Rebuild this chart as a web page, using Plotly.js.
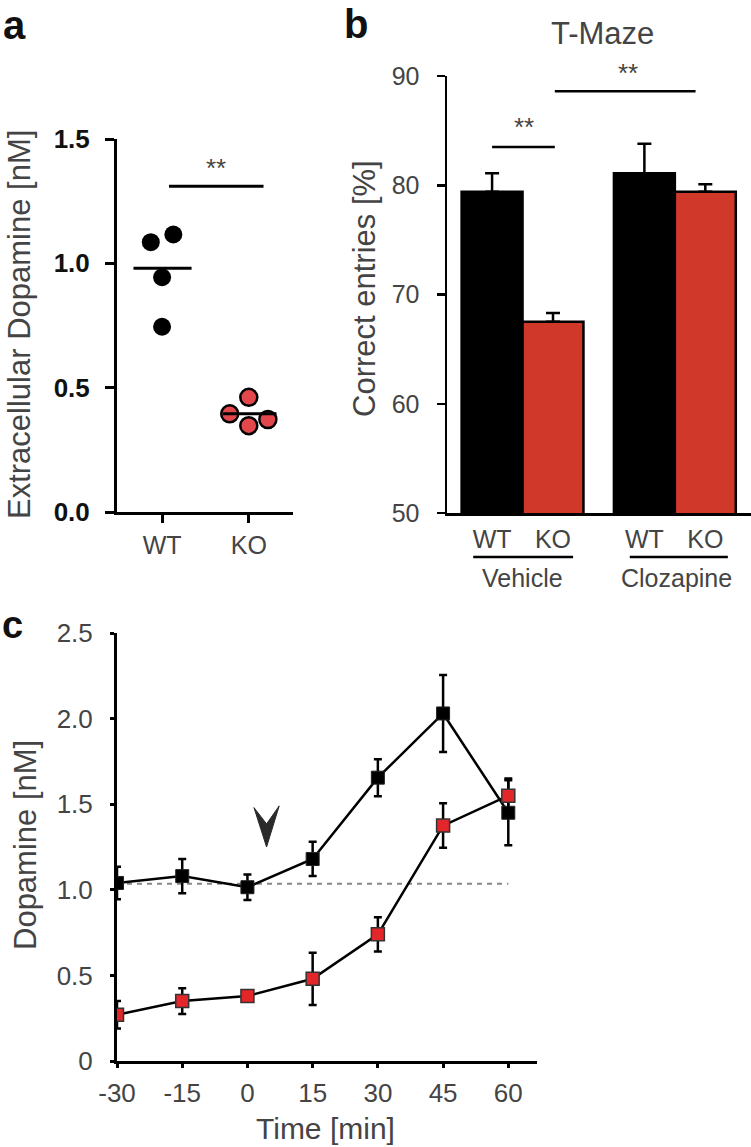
<!DOCTYPE html>
<html>
<head>
<meta charset="utf-8">
<script src="https://cdn.plot.ly/plotly-3.0.1.min.js"></script>
<style>html,body{margin:0;padding:0;background:#fff}#chart{width:751px;height:1147px}</style>
</head>
<body>
<div id="chart"></div>
<script>
// ---------- data ----------
// panel a
const A_GROUPS = ['WT', 'KO'];
const A_WT = [1.085, 1.116, 0.944, 0.745];
const A_KO = [0.461, 0.395, 0.372, 0.347];
const A_MEANS = [0.98, 0.395];
const A_SIG = '**';

// panel b
const B_GENOTYPES = ['WT', 'KO', 'WT', 'KO'];
const B_TREATMENTS = ['Vehicle', 'Clozapine'];
const B_VALUES = [79.4, 67.5, 81.1, 79.4];
const B_SEM = [1.7, 0.8, 2.7, 0.7];
const B_SIG = ['**', '**'];

// panel c
const C_TIME = [-30, -15, 0, 15, 30, 45, 60];
const C_TIME_LABELS = ['-30', '-15', '0', '15', '30', '45', '60'];
const C_WT = [1.04, 1.08, 1.015, 1.18, 1.655, 2.03, 1.45];
const C_WT_SEM = [0.095, 0.1, 0.075, 0.1, 0.108, 0.225, 0.19];
const C_KO = [0.27, 0.35, 0.38, 0.48, 0.74, 1.375, 1.55];
const C_KO_SEM = [0.08, 0.075, 0.02, 0.153, 0.1, 0.13, 0.1];
const C_BASELINE = 1.035;
const C_INJECTION = 4.4;

// ---------- layout helpers (positions / styles) ----------
const W = 751, H = 1147;
const px = v => v / W;
const py = v => 1 - v / H;
const JIT_WT = [-0.13, 0.13, 0, 0];
const JIT_KO = [0, -0.22, 0.22, 0];
const B_POS = [0, 1, 2.5, 3.5];
const FONT = 'Liberation Sans, Arial, sans-serif';
const GREY = '#444';
const RED_A = '#e2474b';
const RED_B = '#d0382a';
const RED_C = '#e3262a';

const traces = [];
// panel a
traces.push({
  type: 'scatter', mode: 'markers', xaxis: 'x', yaxis: 'y',
  x: A_WT.map((v, i) => 0 + JIT_WT[i]), y: A_WT,
  marker: {color: '#000', size: 18, line: {color: '#000', width: 0}}, hoverinfo: 'skip'
});
traces.push({
  type: 'scatter', mode: 'markers', xaxis: 'x', yaxis: 'y',
  x: A_KO.map((v, i) => 1 + JIT_KO[i]), y: A_KO,
  marker: {color: RED_A, size: 17, line: {color: '#000', width: 2.5}}, hoverinfo: 'skip'
});
// panel b
traces.push({
  type: 'bar', xaxis: 'x2', yaxis: 'y2',
  x: B_POS, y: B_VALUES, width: 1,
  marker: {color: ['#000', RED_B, '#000', RED_B], line: {color: '#000', width: 2.5}},
  error_y: {type: 'data', symmetric: false, array: B_SEM, arrayminus: B_SEM.map(() => 0),
            color: '#000', thickness: 2.5, width: 7},
  hoverinfo: 'skip'
});
// panel c
traces.push({
  type: 'scatter', mode: 'lines+markers', xaxis: 'x3', yaxis: 'y3',
  x: C_TIME, y: C_WT,
  line: {color: '#000', width: 2.5},
  marker: {symbol: 'square', color: '#000', size: 13, line: {color: '#222', width: 1}},
  error_y: {type: 'data', array: C_WT_SEM, color: '#000', thickness: 2.5, width: 4},
  hoverinfo: 'skip'
});
traces.push({
  type: 'scatter', mode: 'lines+markers', xaxis: 'x3', yaxis: 'y3',
  x: C_TIME, y: C_KO,
  line: {color: '#000', width: 2.5},
  marker: {symbol: 'square', color: RED_C, size: 13, line: {color: '#333', width: 1.5}},
  error_y: {type: 'data', array: C_KO_SEM, color: '#000', thickness: 2.5, width: 4},
  hoverinfo: 'skip'
});

const axBase = {
  showline: true, linecolor: '#000', showgrid: false, zeroline: false,
  ticks: 'outside', tickcolor: '#000', fixedrange: true
};

const layout = {
  width: W, height: H,
  margin: {l: 0, r: 0, t: 0, b: 0},
  paper_bgcolor: '#fff', plot_bgcolor: 'rgba(0,0,0,0)',
  showlegend: false,
  font: {family: FONT, color: GREY},
  // panel a
  xaxis: Object.assign({}, axBase, {
    domain: [px(117), px(293)], range: [-0.52, 1.51], anchor: 'y',
    tickvals: [0, 1], ticktext: A_GROUPS, linewidth: 3, tickwidth: 3, ticklen: 8,
    tickfont: {size: 25, color: GREY}, ticklabelstandoff: 1
  }),
  yaxis: Object.assign({}, axBase, {
    domain: [py(512), py(139)], range: [0, 1.5], anchor: 'x',
    tickvals: [0, 0.5, 1, 1.5], tickformat: '.1f', linewidth: 3, tickwidth: 3, ticklen: 9,
    tickfont: {size: 26, color: '#111', weight: 'bold'}, ticklabelstandoff: 10
  }),
  // panel b
  xaxis2: Object.assign({}, axBase, {
    domain: [px(447), 1], range: [-0.74, 4.25], anchor: 'y2',
    tickvals: B_POS, ticktext: B_GENOTYPES, ticks: '', linewidth: 2.5,
    tickfont: {size: 25, color: GREY}, ticklabelstandoff: 2
  }),
  yaxis2: Object.assign({}, axBase, {
    domain: [py(513), py(76)], range: [50, 90], anchor: 'x2',
    tickvals: [50, 60, 70, 80, 90], linewidth: 2.5, tickwidth: 2.5, ticklen: 8,
    tickfont: {size: 25, color: GREY}, ticklabelstandoff: 12
  }),
  // panel c
  xaxis3: Object.assign({}, axBase, {
    domain: [px(117), px(537)], range: [-30, 66.6], anchor: 'y3',
    tickvals: C_TIME, ticktext: C_TIME_LABELS, linewidth: 3, tickwidth: 3, ticklen: 4,
    tickfont: {size: 26, color: GREY}, ticklabelstandoff: 3
  }),
  yaxis3: Object.assign({}, axBase, {
    domain: [py(1061), py(633)], range: [0, 2.5], anchor: 'x3',
    tickvals: [0, 0.5, 1, 1.5, 2, 2.5], ticktext: ['0', '0.5', '1.0', '1.5', '2.0', '2.5'],
    linewidth: 3, tickwidth: 3, ticklen: 4,
    tickfont: {size: 26, color: GREY}, ticklabelstandoff: 12
  }),
  shapes: [
    // panel a mean lines
    {type: 'line', xref: 'x', yref: 'y', x0: -0.33, x1: 0.34, y0: A_MEANS[0], y1: A_MEANS[0], line: {color: '#000', width: 3}},
    {type: 'line', xref: 'x', yref: 'y', x0: 0.70, x1: 1.32, y0: A_MEANS[1], y1: A_MEANS[1], line: {color: '#000', width: 3}},
    // panel a significance bar
    {type: 'line', xref: 'x', yref: 'y', x0: 0.08, x1: 1.17, y0: 1.31, y1: 1.31, line: {color: '#000', width: 3}},
    // panel b significance bars
    {type: 'line', xref: 'x2', yref: 'y2', x0: 0, x1: 1.03, y0: 83.5, y1: 83.5, line: {color: '#000', width: 2.5}},
    {type: 'line', xref: 'x2', yref: 'y2', x0: 1.03, x1: 3.34, y0: 88.6, y1: 88.6, line: {color: '#000', width: 2.5}},
    // panel b group underlines
    {type: 'line', xref: 'x2', yref: 'paper', x0: -0.31, x1: 1.33, y0: py(557), y1: py(557), line: {color: '#000', width: 2.5}},
    {type: 'line', xref: 'x2', yref: 'paper', x0: 2.26, x1: 3.87, y0: py(557), y1: py(557), line: {color: '#000', width: 2.5}},
    // panel c baseline
    {type: 'line', xref: 'x3', yref: 'y3', x0: C_TIME[0], x1: C_TIME[C_TIME.length - 1], y0: C_BASELINE, y1: C_BASELINE,
     layer: 'below', line: {color: '#888', width: 2, dash: '5px,5px'}},
    // injection arrowhead
    {type: 'path', xref: 'x3', yref: 'y3', layer: 'above',
     path: `M ${C_INJECTION - 2.9},1.48 L ${C_INJECTION},1.25 L ${C_INJECTION + 2.9},1.49 L ${C_INJECTION},1.385 Z`,
     fillcolor: '#2a2a2a', line: {color: '#2a2a2a', width: 1}}
  ],
  annotations: [
    // panel labels
    {text: '<b>a</b>', xref: 'paper', yref: 'paper', x: px(1), y: py(1), xanchor: 'left', yanchor: 'top', showarrow: false, font: {size: 40, color: '#111'}},
    {text: '<b>b</b>', xref: 'paper', yref: 'paper', x: px(342), y: py(0), xanchor: 'left', yanchor: 'top', showarrow: false, font: {size: 40, color: '#111'}},
    {text: '<b>c</b>', xref: 'paper', yref: 'paper', x: px(0), y: py(602), xanchor: 'left', yanchor: 'top', showarrow: false, font: {size: 38, color: '#111'}},
    // axis titles
    {text: 'Extracellular Dopamine [nM]', xref: 'paper', yref: 'paper', x: px(19), y: py(325), textangle: -90, xanchor: 'center', yanchor: 'middle', showarrow: false, font: {size: 31, color: GREY}},
    {text: 'Correct entries [%]', xref: 'paper', yref: 'paper', x: px(365), y: py(289), textangle: -90, xanchor: 'center', yanchor: 'middle', showarrow: false, font: {size: 31, color: GREY}},
    {text: 'Dopamine [nM]', xref: 'paper', yref: 'paper', x: px(25), y: py(845), textangle: -90, xanchor: 'center', yanchor: 'middle', showarrow: false, font: {size: 31, color: GREY}},
    {text: 'Time [min]', xref: 'paper', yref: 'paper', x: px(325), y: py(1147), xanchor: 'center', yanchor: 'bottom', showarrow: false, font: {size: 30, color: GREY}},
    {text: 'T-Maze', xref: 'paper', yref: 'paper', x: px(602), y: py(33), xanchor: 'center', yanchor: 'middle', showarrow: false, font: {size: 31, color: GREY}},
    // significance stars
    {text: A_SIG, xref: 'x', yref: 'y', x: 0.62, y: 1.385, showarrow: false, font: {size: 26, color: GREY}},
    {text: B_SIG[0], xref: 'x2', yref: 'y2', x: 0.52, y: 85.3, showarrow: false, font: {size: 26, color: GREY}},
    {text: B_SIG[1], xref: 'x2', yref: 'paper', x: 2.23, y: py(73), yanchor: 'middle', showarrow: false, font: {size: 26, color: GREY}},
    // treatment labels
    {text: B_TREATMENTS[0], xref: 'x2', yref: 'paper', x: 0.5, y: py(578), xanchor: 'center', yanchor: 'middle', showarrow: false, font: {size: 25, color: GREY}},
    {text: B_TREATMENTS[1], xref: 'x2', yref: 'paper', x: 3.03, y: py(578), xanchor: 'center', yanchor: 'middle', showarrow: false, font: {size: 25, color: GREY}}
  ]
};

Plotly.newPlot('chart', traces, layout, {staticPlot: true, displayModeBar: false});
</script>
</body>
</html>
